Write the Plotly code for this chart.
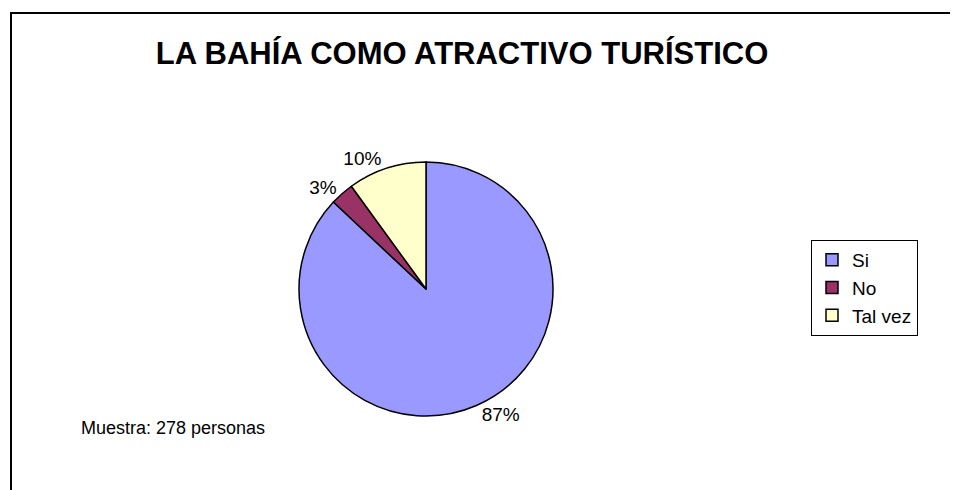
import plotly.graph_objects as go

# survey answers (percent of 278 people)
labels = ["Si", "No", "Tal vez"]
values = [87, 3, 10]
colors = ["#9999FF", "#993366", "#FFFFCC"]

title_text = "LA BAHÍA COMO ATRACTIVO TURÍSTICO"
note_text = "Muestra: 278 personas"

W, H = 958, 490
FONT = "Liberation Sans, Arial"

# pie placement in pixels (centre and radius)
cx, cy, r = 418, 281, 127

fig = go.Figure()

fig.add_trace(go.Pie(
    labels=labels,
    values=values,
    sort=False,
    direction="clockwise",
    rotation=0,
    marker=dict(colors=colors, line=dict(color="black", width=1.5)),
    texttemplate="%{value}%",
    textposition="outside",
    textfont=dict(family=FONT, size=19, color="black"),
    hoverinfo="label+percent",
    domain=dict(x=[(cx - r) / W, (cx + r) / W],
                y=[1 - (cy + 165) / H, 1 - (cy - 165) / H]),
))

# chart area border
fig.add_shape(type="rect", xref="paper", yref="paper",
              x0=3 / W, x1=1.05, y0=-0.05, y1=1 - 5 / H,
              line=dict(color="black", width=2), fillcolor="rgba(0,0,0,0)")

fig.add_annotation(text=note_text, xref="paper", yref="paper",
                   x=71 / W, y=1 - 420 / H, xanchor="left", yanchor="middle",
                   showarrow=False,
                   font=dict(family=FONT, size=18, color="black"))

fig.update_layout(
    width=W,
    height=H,
    margin=dict(l=0, r=0, t=0, b=0, autoexpand=False),
    paper_bgcolor="white",
    title=dict(text=f"<b>{title_text}</b>", x=454 / W, xanchor="center",
               y=1 - 45 / H, yanchor="middle",
               font=dict(family=FONT, size=31, color="black")),
    legend=dict(x=803 / W, y=1 - 232 / H, xanchor="left", yanchor="top",
                bordercolor="black", borderwidth=1, bgcolor="white",
                font=dict(family=FONT, size=19, color="black")),
    showlegend=True,
)

fig.write_html("out.html")
